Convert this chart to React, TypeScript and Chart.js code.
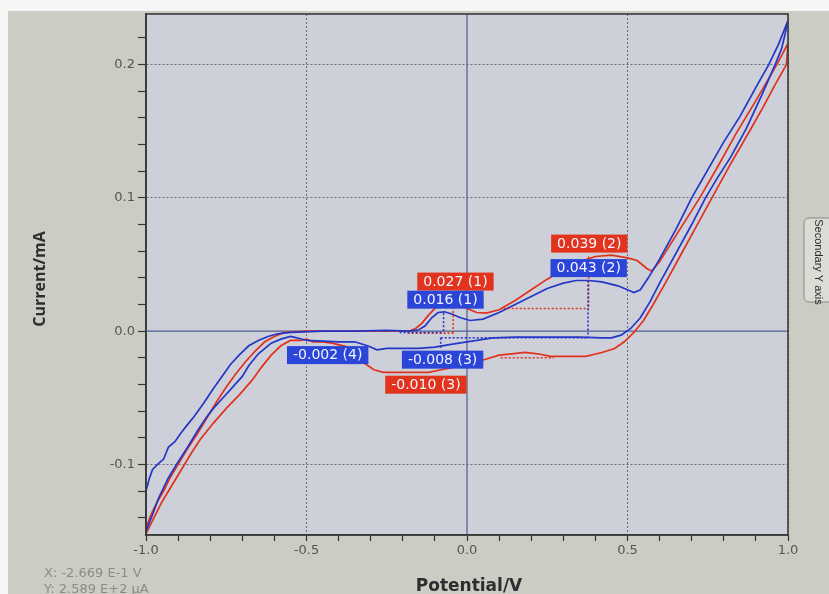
import React, { useEffect, useRef } from "react";
import { Chart, registerables } from "chart.js";

Chart.register(...registerables);

// ---------- data (potential in V, current in mA) ----------
const blueForwardE = [-1.0, -0.99, -0.98, -0.96, -0.945, -0.93, -0.91, -0.89, -0.87, -0.85, -0.82, -0.79, -0.76, -0.737, -0.71, -0.68, -0.65, -0.62, -0.59, -0.55, -0.45, -0.35, -0.25, -0.18, -0.15, -0.13, -0.11, -0.09, -0.07, -0.05, -0.02, 0.01, 0.05, 0.1, 0.15, 0.2, 0.25, 0.3, 0.34, 0.38, 0.42, 0.47, 0.5, 0.52, 0.54, 0.565, 0.6, 0.65, 0.7, 0.75, 0.8, 0.85, 0.9, 0.94, 0.97, 1.0];
const blueForwardI = [-0.12, -0.111, -0.104, -0.099, -0.096, -0.087, -0.083, -0.076, -0.07, -0.064, -0.054, -0.043, -0.033, -0.025, -0.018, -0.011, -0.007, -0.004, -0.002, -0.001, 0.0, 0.0, 0.0005, 0.0, 0.001, 0.004, 0.01, 0.014, 0.0145, 0.013, 0.01, 0.008, 0.009, 0.014, 0.02, 0.026, 0.032, 0.036, 0.038, 0.038, 0.037, 0.034, 0.031, 0.029, 0.031, 0.04, 0.054, 0.076, 0.1, 0.121, 0.142, 0.161, 0.183, 0.2, 0.215, 0.233];

const blueReverseE = [1.0, 0.99, 0.98, 0.96, 0.92, 0.87, 0.82, 0.78, 0.743, 0.7, 0.65, 0.6, 0.57, 0.54, 0.51, 0.48, 0.45, 0.42, 0.35, 0.25, 0.15, 0.08, 0.03, 0.0, -0.05, -0.1, -0.15, -0.2, -0.25, -0.28, -0.31, -0.35, -0.4, -0.45, -0.5, -0.53, -0.55, -0.58, -0.61, -0.65, -0.68, -0.7, -0.73, -0.76, -0.79, -0.81, -0.84, -0.87, -0.905, -0.93, -0.96, -0.98, -1.0, -1.0];
const blueReverseI = [0.233, 0.222, 0.212, 0.2, 0.178, 0.152, 0.13, 0.115, 0.1, 0.08, 0.058, 0.036, 0.022, 0.01, 0.002, -0.003, -0.005, -0.005, -0.0045, -0.0045, -0.0045, -0.005, -0.007, -0.008, -0.01, -0.012, -0.013, -0.013, -0.013, -0.014, -0.011, -0.008, -0.008, -0.0075, -0.007, -0.005, -0.004, -0.006, -0.009, -0.017, -0.026, -0.034, -0.042, -0.05, -0.058, -0.064, -0.075, -0.087, -0.1, -0.11, -0.125, -0.138, -0.15, -0.12];

const redForwardE = [-1.0, -0.985, -0.965, -0.945, -0.925, -0.9, -0.87, -0.84, -0.81, -0.78, -0.75, -0.72, -0.69, -0.66, -0.63, -0.6, -0.57, -0.5, -0.4, -0.3, -0.22, -0.18, -0.16, -0.14, -0.12, -0.1, -0.08, -0.06, -0.03, 0.0, 0.03, 0.06, 0.1, 0.15, 0.2, 0.25, 0.3, 0.35, 0.4, 0.45, 0.5, 0.53, 0.56, 0.575, 0.6, 0.62, 0.67, 0.725, 0.78, 0.84, 0.9, 0.965, 1.0];
const redForwardI = [-0.148, -0.138, -0.128, -0.12, -0.11, -0.1, -0.088, -0.077, -0.065, -0.053, -0.042, -0.032, -0.023, -0.015, -0.008, -0.004, -0.001, 0.0, 0.0, 0.0, 0.0, 0.0, 0.002, 0.006, 0.012, 0.017, 0.02, 0.021, 0.02, 0.017, 0.014, 0.0135, 0.016, 0.023, 0.031, 0.039, 0.046, 0.052, 0.056, 0.057, 0.055, 0.053, 0.047, 0.045, 0.052, 0.06, 0.079, 0.1, 0.123, 0.149, 0.173, 0.2, 0.216];

const redReverseE = [1.0, 0.995, 0.96, 0.92, 0.88, 0.82, 0.763, 0.72, 0.67, 0.62, 0.58, 0.55, 0.52, 0.49, 0.46, 0.42, 0.37, 0.3, 0.26, 0.22, 0.18, 0.14, 0.1, 0.045, 0.0, -0.04, -0.08, -0.12, -0.2, -0.26, -0.29, -0.32, -0.34, -0.37, -0.42, -0.45, -0.48, -0.5, -0.52, -0.55, -0.58, -0.61, -0.64, -0.67, -0.71, -0.75, -0.79, -0.83, -0.86, -0.89, -0.92, -0.95, -0.975, -1.0, -1.0];
const redReverseI = [0.216, 0.2, 0.185, 0.167, 0.15, 0.125, 0.1, 0.081, 0.059, 0.037, 0.02, 0.008, -0.001, -0.008, -0.013, -0.016, -0.019, -0.019, -0.019, -0.017, -0.016, -0.017, -0.018, -0.022, -0.025, -0.027, -0.029, -0.031, -0.031, -0.031, -0.029, -0.024, -0.018, -0.012, -0.009, -0.008, -0.008, -0.006, -0.007, -0.007, -0.011, -0.018, -0.027, -0.037, -0.048, -0.058, -0.069, -0.081, -0.092, -0.104, -0.116, -0.128, -0.14, -0.152, -0.148];

// peak-measurement dotted segments
const markerSeries = ["blue", "blue", "blue", "blue", "blue", "red", "red", "red", "red", "red"];
const markerE0 = [-0.073, -0.21, 0.377, -0.082, -0.082, -0.043, -0.185, 0.114, 0.379, 0.105];
const markerI0 = [0.0135, -0.001, 0.038, -0.005, -0.005, 0.021, -0.0015, 0.017, 0.056, -0.02];
const markerE1 = [-0.073, -0.073, 0.377, 0.377, -0.082, -0.043, -0.043, 0.379, 0.379, 0.27];
const markerI1 = [-0.001, -0.001, -0.005, -0.005, -0.013, -0.0015, -0.0015, 0.017, 0.017, -0.02];

// peak labels
const labelText = ["0.027 (1)", "0.016 (1)", "0.039 (2)", "0.043 (2)", "-0.002 (4)", "-0.008 (3)", "-0.010 (3)"];
const labelSeries = ["red", "blue", "red", "blue", "blue", "blue", "red"];
const labelE = [-0.036, -0.067, 0.381, 0.379, -0.434, -0.076, -0.128];
const labelI = [0.0372, 0.0236, 0.0657, 0.0473, -0.018, -0.0214, -0.0402];

// axis settings
const xMin = -1.0, xMax = 1.0, xMinorStep = 0.1, xMajorStep = 0.5;
const yMin = -0.153, yMax = 0.238, yMinorStep = 0.02, yMajorStep = 0.1;

const xTitle = "Potential/V";
const yTitle = "Current/mA";
const readoutX = "X: -2.669 E-1 V";
const readoutY = "Y: 2.589 E+2 \u00B5A";
const tabText = "Secondary Y axis";

const LINE: Record<string, string> = { blue: "#2336c6", red: "#e1311c" };
const BOX: Record<string, string> = { blue: "#2a45d8", red: "#e2341c" };

const zip = (xs: number[], ys: number[]) => xs.map((x, i) => ({ x, y: ys[i] }));
const isMult = (v: number, step: number) => Math.abs(v / step - Math.round(v / step)) < 1e-6;
const fmt = (v: number) => (Math.abs(v) < 1e-9 ? "0.0" : v.toFixed(1));

export default function App() {
  const ref = useRef<HTMLCanvasElement>(null);

  useEffect(() => {
    const canvas = ref.current;
    if (!canvas) return;

    const decor = {
      id: "decor",
      beforeDraw(chart: any) {
        const { ctx, chartArea: a, width, height } = chart;
        ctx.save();
        ctx.fillStyle = "#cbccc3";
        ctx.fillRect(0, 0, width, height);
        ctx.fillStyle = "#f6f6f4";
        ctx.fillRect(0, 0, width, 11);
        ctx.fillRect(0, 0, 8, height);
        ctx.fillStyle = "#ced0d9";
        ctx.fillRect(a.left, a.top, a.right - a.left, a.bottom - a.top);
        ctx.restore();
      },
      beforeDatasetsDraw(chart: any) {
        const { ctx, chartArea: a, scales } = chart;
        const x0 = scales.x.getPixelForValue(0);
        const y0 = scales.y.getPixelForValue(0);
        ctx.save();
        ctx.strokeStyle = "#4b6190";
        ctx.lineWidth = 1.2;
        ctx.beginPath();
        ctx.moveTo(x0, a.top);
        ctx.lineTo(x0, a.bottom);
        ctx.moveTo(a.left, y0);
        ctx.lineTo(a.right, y0);
        ctx.stroke();
        ctx.restore();
      },
      afterDatasetsDraw(chart: any) {
        const { ctx, chartArea: a, scales } = chart;
        ctx.save();
        ctx.strokeStyle = "#3a3a3a";
        ctx.lineWidth = 1.6;
        ctx.strokeRect(a.left, a.top, a.right - a.left, a.bottom - a.top);
        // peak labels
        ctx.font = "14px 'DejaVu Sans', sans-serif";
        ctx.textAlign = "center";
        ctx.textBaseline = "middle";
        labelText.forEach((t, i) => {
          const cx = scales.x.getPixelForValue(labelE[i]);
          const cy = scales.y.getPixelForValue(labelI[i]);
          const w = ctx.measureText(t).width + 12;
          const h = 18;
          ctx.fillStyle = BOX[labelSeries[i]];
          ctx.fillRect(cx - w / 2, cy - h / 2, w, h);
          ctx.fillStyle = "#f4f4ff";
          ctx.fillText(t, cx, cy + 0.5);
        });
        ctx.restore();
      },
      afterDraw(chart: any) {
        const { ctx, chartArea: a } = chart;
        ctx.save();
        // axis titles
        ctx.fillStyle = "#2e2e2e";
        ctx.textAlign = "center";
        ctx.textBaseline = "middle";
        ctx.font = "bold 17px 'DejaVu Sans', sans-serif";
        ctx.fillText(xTitle, (a.left + a.right) / 2 + 2, 587);
        ctx.save();
        ctx.translate(40, 279);
        ctx.rotate(-Math.PI / 2);
        ctx.font = "bold 16px 'Open Sans', sans-serif";
        ctx.fillText(yTitle, 0, 0);
        ctx.restore();
        // cursor readout
        ctx.fillStyle = "#8c8c86";
        ctx.textAlign = "left";
        ctx.font = "13px 'DejaVu Sans', sans-serif";
        ctx.fillText(readoutX, 44, 574);
        ctx.fillText(readoutY, 44, 590);
        // secondary axis tab
        const tx = 804, ty = 218, tw = 34, th = 84, r = 5;
        ctx.beginPath();
        ctx.moveTo(tx + r, ty);
        ctx.lineTo(tx + tw, ty);
        ctx.lineTo(tx + tw, ty + th);
        ctx.lineTo(tx + r, ty + th);
        ctx.arcTo(tx, ty + th, tx, ty + th - r, r);
        ctx.lineTo(tx, ty + r);
        ctx.arcTo(tx, ty, tx + r, ty, r);
        ctx.closePath();
        ctx.fillStyle = "#dcdcd6";
        ctx.fill();
        ctx.strokeStyle = "#8a8a84";
        ctx.lineWidth = 1;
        ctx.stroke();
        ctx.save();
        ctx.translate(818, 262);
        ctx.rotate(Math.PI / 2);
        ctx.fillStyle = "#2a2a2a";
        ctx.textAlign = "center";
        ctx.font = "11px 'Liberation Sans Narrow', 'Liberation Sans', sans-serif";
        ctx.fillText(tabText, 0, 0);
        ctx.restore();
        ctx.restore();
      },
    };

    const curve = (e: number[], i: number[], c: string) => ({
      data: zip(e, i),
      showLine: true,
      borderColor: LINE[c],
      backgroundColor: LINE[c],
      borderWidth: 1.7,
      pointRadius: 0,
      tension: 0,
      fill: false,
    });

    const markers = markerSeries.map((c, k) => ({
      data: [
        { x: markerE0[k], y: markerI0[k] },
        { x: markerE1[k], y: markerI1[k] },
      ],
      showLine: true,
      borderColor: LINE[c],
      borderWidth: 1.6,
      borderDash: [2, 2],
      pointRadius: 0,
      fill: false,
    }));

    const chart = new Chart(canvas, {
      type: "scatter",
      data: {
        datasets: [
          ...markers,
          curve(blueForwardE, blueForwardI, "blue"),
          curve(blueReverseE, blueReverseI, "blue"),
          curve(redForwardE, redForwardI, "red"),
          curve(redReverseE, redReverseI, "red"),
        ] as any,
      },
      options: {
        animation: false,
        responsive: true,
        maintainAspectRatio: false,
        layout: { padding: { left: 0, top: 14, right: 41, bottom: 0 } },
        plugins: { legend: { display: false }, tooltip: { enabled: false } },
        scales: {
          x: {
            type: "linear",
            min: xMin,
            max: xMax,
            ticks: {
              stepSize: xMinorStep,
              autoSkip: false,
              maxRotation: 0,
              includeBounds: false,
              padding: 2,
              color: "#555",
              font: { family: "'DejaVu Sans', sans-serif", size: 13 },
              callback: (v: any) => (isMult(Number(v), xMajorStep) ? fmt(Number(v)) : ""),
            },
            grid: {
              color: (c: any) => {
                const v = c.tick ? c.tick.value : 1;
                return isMult(v, xMajorStep) && Math.abs(v) > 1e-9 ? "#6b6b72" : "rgba(0,0,0,0)";
              },
              lineWidth: 1,
              tickColor: "#333",
              tickLength: 6,
              tickWidth: 1.2,
            },
            border: { display: true, color: "#333", width: 1.5, dash: [2, 2] },
            afterFit: (s: any) => {
              s.height = 59;
            },
          } as any,
          y: {
            type: "linear",
            min: yMin,
            max: yMax,
            ticks: {
              stepSize: yMinorStep,
              autoSkip: false,
              includeBounds: false,
              padding: 3,
              color: "#555",
              font: { family: "'DejaVu Sans', sans-serif", size: 13 },
              callback: (v: any) => (isMult(Number(v), yMajorStep) ? fmt(Number(v)) : ""),
            },
            grid: {
              color: (c: any) => {
                const v = c.tick ? c.tick.value : 1;
                return isMult(v, yMajorStep) && Math.abs(v) > 1e-9 ? "#6b6b72" : "rgba(0,0,0,0)";
              },
              lineWidth: 1,
              tickColor: "#333",
              tickLength: 8,
              tickWidth: 1.2,
            },
            border: { display: true, color: "#333", width: 1.5, dash: [2, 2] },
            afterFit: (s: any) => {
              s.width = 146;
            },
          } as any,
        },
      },
      plugins: [decor],
    });

    return () => chart.destroy();
  }, []);

  return (
    <div style={{ position: "fixed", left: 0, top: 0, width: 829, height: 594 }}>
      <canvas ref={ref} />
    </div>
  );
}
